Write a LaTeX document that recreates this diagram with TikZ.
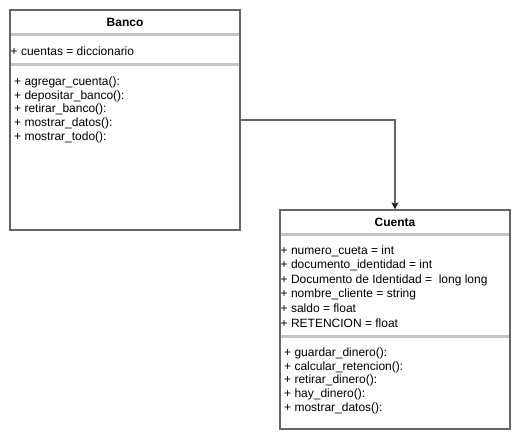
\documentclass[tikz,border=0pt]{standalone}
\usepackage{fontspec}
\setmainfont{Liberation Sans}
\usetikzlibrary{arrows.meta}
\definecolor{edge}{HTML}{666666}
\definecolor{bar}{HTML}{C4C4C4}
\tikzset{
  classbox/.style={draw=edge, line width=1.2pt, fill=white, rectangle, inner sep=0pt,
    minimum width=230pt},
  title/.style={font=\fontsize{12}{14}\selectfont\bfseries, inner sep=0pt},
  member/.style={font=\fontsize{12}{14}\selectfont, anchor=west, inner sep=0pt},
  sepbar/.style={draw=bar, line width=3pt},
  link/.style={draw=edge, line width=1.2pt, -{Stealth[length=7pt, width=7pt, inset=1.5pt, color=black!85]}}
}
\begin{document}
\begin{tikzpicture}[x=1pt, y=-1pt]
  \useasboundingbox (0,0) rectangle (521,441);

  % class Banco
  \node[classbox, minimum height=220pt] (banco) at (125,120) {};
  \node[title] (bancoT) at (125,22) {Banco};
  \draw[sepbar] (10.6,34.5) -- (239.4,34.5);
  \node[member] (b1) at (10.5,51) {+ cuentas = diccionario};
  \draw[sepbar] (10.6,64.5) -- (239.4,64.5);
  \node[member] (b2) at (14,82)  {+ agregar\_cuenta():};
  \node[member] (b3) at (14,96)  {+ depositar\_banco():};
  \node[member] (b4) at (14,109.5) {+ retirar\_banco():};
  \node[member] (b5) at (14,123) {+ mostrar\_datos():};
  \node[member] (b6) at (14,137) {+ mostrar\_todo():};

  % class Cuenta
  \node[classbox, minimum height=219pt] (cuenta) at (395,319.5) {};
  \node[title] (cuentaT) at (395,222) {Cuenta};
  \draw[sepbar] (280.6,234.5) -- (509.4,234.5);
  \node[member] (c1) at (280.5,251.5) {+ numero\_cueta = int};
  \node[member] (c2) at (280.5,265.5) {+ documento\_identidad = int};
  \node[member] (c3) at (280.5,280)   {+ Documento de Identidad =\ \ long long};
  \node[member] (c4) at (280.5,294.5) {+ nombre\_cliente = string};
  \node[member] (c5) at (280.5,308.5) {+ saldo = float};
  \node[member] (c6) at (280.5,323)   {+ RETENCION = float};
  \draw[sepbar] (280.6,336.5) -- (509.4,336.5);
  \node[member] (c7) at (284,353)   {+ guardar\_dinero():};
  \node[member] (c8) at (284,367)   {+ calcular\_retencion():};
  \node[member] (c9) at (284,380.5) {+ retirar\_dinero():};
  \node[member] (c10) at (284,394.5) {+ hay\_dinero():};
  \node[member] (c11) at (284,408.5) {+ mostrar\_datos():};

  % association
  \draw[link] (banco.east) -| (cuenta.north);
\end{tikzpicture}
\end{document}
